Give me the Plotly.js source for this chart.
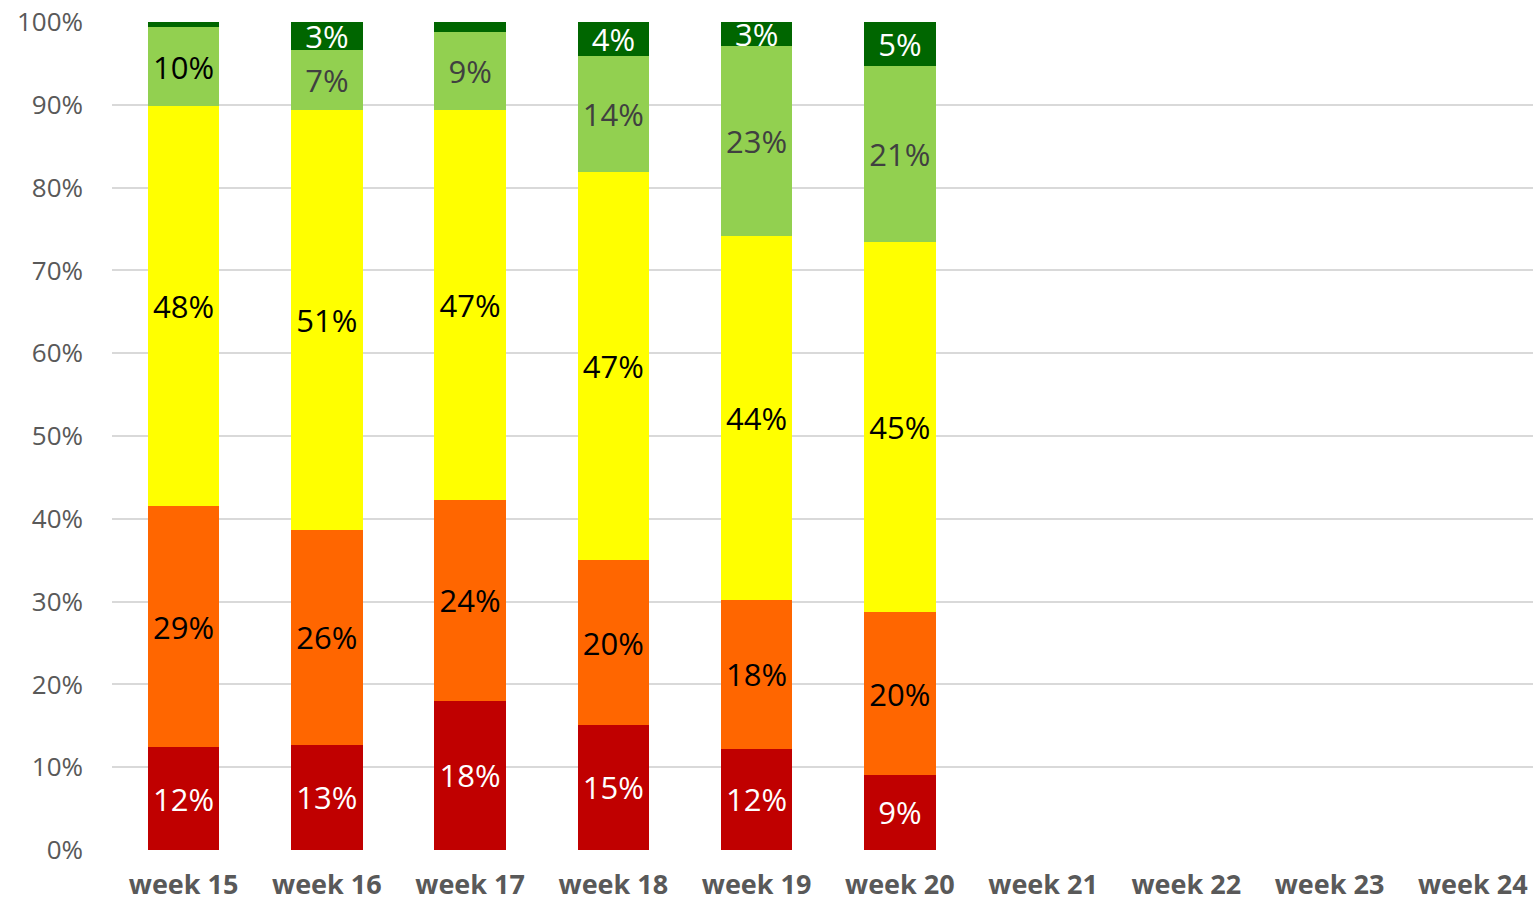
<!DOCTYPE html>
<html>
<head>
<meta charset="utf-8">
<script src="https://cdn.plot.ly/plotly-3.0.1.min.js"></script>
<style>html,body{margin:0;padding:0;background:#fff;}#chart{width:1533px;height:904px;}</style>
</head>
<body>
<div id="chart"></div>
<script>
const weeks = ["week 15","week 16","week 17","week 18","week 19","week 20","week 21","week 22","week 23","week 24"];
const red      = [0.124, 0.127, 0.180, 0.151, 0.122, 0.091];
const orange   = [0.291, 0.260, 0.243, 0.199, 0.180, 0.196];
const yellow   = [0.483, 0.507, 0.471, 0.469, 0.440, 0.447];
const ltgreen  = [0.096, 0.072, 0.094, 0.140, 0.229, 0.213];
const dkgreen  = [0.006, 0.034, 0.012, 0.041, 0.029, 0.053];
const redLbl     = ["12%","13%","18%","15%","12%","9%"];
const orangeLbl  = ["29%","26%","24%","20%","18%","20%"];
const yellowLbl  = ["48%","51%","47%","47%","44%","45%"];
const ltgreenLbl = ["10%","7%","9%","14%","23%","21%"];
const dkgreenLbl = ["","3%","","4%","3%","5%"];
const ltgreenTxtColors = ["#000000","#404040","#404040","#404040","#404040","#404040"];

const FS = 31;
function mk(y, txt, color, tcolor){
  return {
    type:'bar', x: weeks.slice(0, y.length), y: y, text: txt,
    texttemplate:'%{text}', textposition:'inside', insidetextanchor:'middle',
    marker:{color: color}, textfont:{family:'Open Sans', size:FS, color:tcolor},
    hoverinfo:'skip', cliponaxis:false
  };
}
const data = [
  mk(red, redLbl, '#c00000', '#ffffff'),
  mk(orange, orangeLbl, '#ff6600', '#000000'),
  mk(yellow, yellowLbl, '#ffff00', '#000000'),
  mk(ltgreen, ltgreenLbl, '#92d050', ltgreenTxtColors),
  mk(dkgreen, dkgreenLbl, '#006600', '#ffffff')
];
const layout = {
  width:1533, height:904,
  margin:{l:112, r:0, t:22, b:54},
  barmode:'stack', bargap:0.5, showlegend:false,
  paper_bgcolor:'#fff', plot_bgcolor:'#fff',
  font:{family:'Open Sans', color:'#595959'},
  uniformtext:{mode:'show', minsize:FS},
  xaxis:{
    type:'category', categoryarray: weeks, categoryorder:'array',
    range:[-0.5, 9.42],
    tickfont:{family:'Open Sans', size:27, color:'#595959', weight:'bold'},
    showgrid:false, zeroline:false, showline:false, ticks:'', ticklabelstandoff:16
  },
  yaxis:{
    range:[0,1], dtick:0.1, tickformat:'.0%',
    tickfont:{family:'Open Sans', size:26, color:'#595959'},
    gridcolor:'#d9d9d9', gridwidth:2, zeroline:false, showline:false, ticks:'',
    ticklabelstandoff:28
  }
};
Plotly.newPlot('chart', data, layout, {staticPlot:true});
</script>
</body>
</html>
